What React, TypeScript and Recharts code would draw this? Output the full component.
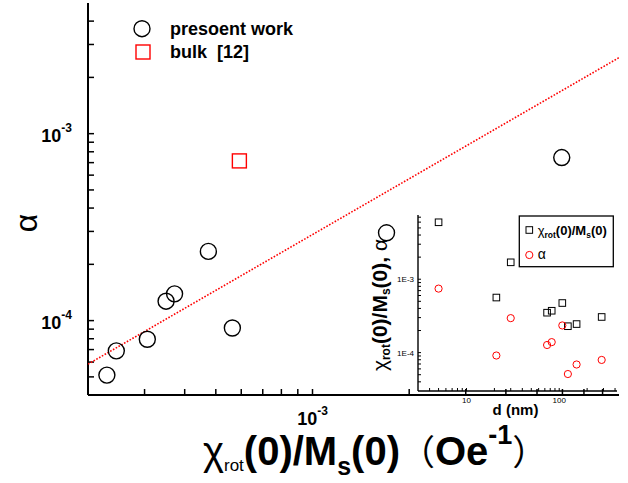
import React from 'react';
import { ScatterChart, Scatter, XAxis, YAxis, Legend, Label } from 'recharts';

const FONT = "'Liberation Sans', Arial, Helvetica, sans-serif";
const CJK = "'Noto Sans CJK SC', 'Noto Sans CJK JP', sans-serif";

// ---- data ----
const sizeNm = [5, 21, 30, 74, 83, 108, 124, 154, 287];
const chiRot = [5.97e-3, 5.63e-4, 1.7e-3, 3.5e-4, 3.72e-4, 4.74e-4, 2.29e-4, 2.45e-4, 3.06e-4];
const alpha = [7.45e-4, 9.13e-5, 2.95e-4, 1.27e-4, 1.39e-4, 2.345e-4, 5.11e-5, 6.89e-5, 7.95e-5];
const bulkChi = [5.92e-4];
const bulkAlpha = [7.15e-4];
const fitChi = [2.0e-4, 9.0e-3];
const fitAlpha = [5.85e-5, 2.55e-3];

// ---- axes ----
const mainXDomain = [2e-4, 9e-3];
const mainYDomain = [4e-5, 5e-3];
const mainXTicks = [3e-4, 4e-4, 5e-4, 6e-4, 7e-4, 8e-4, 9e-4, 1e-3, 2e-3, 3e-3, 4e-3, 5e-3, 6e-3, 7e-3, 8e-3];
const mainYTicks = [5e-5, 6e-5, 7e-5, 8e-5, 9e-5, 1e-4, 2e-4, 3e-4, 4e-4, 5e-4, 6e-4, 7e-4, 8e-4, 9e-4, 1e-3, 2e-3, 3e-3, 4e-3];
const insetXDomain = [3, 420];
const insetYDomain = [3e-5, 7.5e-3];
const insetXTicks = [4, 5, 6, 7, 8, 9, 10, 20, 30, 40, 50, 60, 70, 80, 90, 100, 200, 300, 400];
const insetYTicks = [4e-5, 5e-5, 6e-5, 7e-5, 8e-5, 9e-5, 1e-4, 2e-4, 3e-4, 4e-4, 5e-4, 6e-4, 7e-4, 8e-4, 9e-4, 1e-3, 2e-3, 3e-3, 4e-3, 5e-3, 6e-3, 7e-3];

const mainPoints = chiRot.map((x, i) => ({ x, y: alpha[i] }));
const bulkPoints = bulkChi.map((x, i) => ({ x, y: bulkAlpha[i] }));
const fitPoints = fitChi.map((x, i) => ({ x, y: fitAlpha[i] }));
const insetChiPts = sizeNm.map((x, i) => ({ x, y: chiRot[i] }));
const insetAlphaPts = sizeNm.map((x, i) => ({ x, y: alpha[i] }));

const isMajor = (v: number) => Math.abs(Math.log10(v) - Math.round(Math.log10(v))) < 1e-6;
const expOf = (v: number) => Math.round(Math.log10(v));

// ---- shapes ----
const Empty = () => <g />;
const OpenCircle = (p: any) => <circle cx={p.cx} cy={p.cy} r={8} fill="none" stroke="#000" strokeWidth={1.4} />;
const RedSquare = (p: any) => <rect x={p.cx - 7} y={p.cy - 7} width={14} height={14} fill="none" stroke="#f00" strokeWidth={1.4} />;
const SmallSquare = (p: any) => <rect x={p.cx - 3.3} y={p.cy - 3.3} width={6.6} height={6.6} fill="none" stroke="#000" strokeWidth={1} />;
const SmallCircle = (p: any) => <circle cx={p.cx} cy={p.cy} r={3.6} fill="none" stroke="#f00" strokeWidth={1} />;

// ---- tick labels (tick lines drawn natively, inward via negative tickSize) ----
const MainXTick = (p: any) =>
  isMajor(p.payload.value) ? (
    <text x={p.x} y={p.y + 36} textAnchor="middle" fontFamily={FONT} fontWeight="bold" fontSize={18} fill="#000">
      10<tspan dy={-10} fontSize={12}>{expOf(p.payload.value)}</tspan>
    </text>
  ) : <g />;

const MainYTick = (p: any) =>
  isMajor(p.payload.value) ? (
    <text x={p.x - 22} y={p.y + 8} textAnchor="end" fontFamily={FONT} fontWeight="bold" fontSize={18} fill="#000">
      10<tspan dy={-10} fontSize={12}>{expOf(p.payload.value)}</tspan>
    </text>
  ) : <g />;

const InsetXTick = (p: any) =>
  isMajor(p.payload.value) ? (
    <text x={p.x} y={p.y + 15} textAnchor="middle" fontFamily={FONT} fontSize={8} fill="#000">
      {String(p.payload.value)}
    </text>
  ) : <g />;

const InsetYTick = (p: any) =>
  isMajor(p.payload.value) ? (
    <text x={p.x - 7} y={p.y + 3} textAnchor="end" fontFamily={FONT} fontSize={8} fill="#000">
      {`1E${expOf(p.payload.value)}`}
    </text>
  ) : <g />;

// ---- titles ----
const MainXTitle = (p: any) => {
  const vb = p.viewBox || { x: 88, y: 395, width: 531, height: 88 };
  return (
    <text x={vb.x + 115} y={vb.y + 70} fontFamily={FONT} fontWeight="bold" fontSize={40} fill="#000">
      <tspan fontWeight="normal">χ</tspan>
      <tspan fontWeight="normal" fontSize={17} dy={6}>rot</tspan>
      <tspan dy={-6}>(0)/M</tspan>
      <tspan fontSize={25} dy={10}>s</tspan>
      <tspan dy={-10}>(0)</tspan>
      <tspan fontFamily={CJK} fontWeight="normal" fontSize={35}>（</tspan>
      <tspan>Oe</tspan>
      <tspan fontSize={27} dy={-21}>-1</tspan>
      <tspan dy={21} fontFamily={CJK} fontWeight="normal" fontSize={35}>）</tspan>
    </text>
  );
};

const MainYTitle = (p: any) => {
  const vb = p.viewBox || { x: 0, y: 3, width: 88, height: 392 };
  const cx = vb.x + 26;
  const cy = vb.y + vb.height / 2 + 24;
  return (
    <text x={cx} y={cy} transform={`rotate(-90, ${cx}, ${cy})`} textAnchor="middle" dominantBaseline="central" fontFamily={FONT} fontSize={32} fill="#000">
      α
    </text>
  );
};

const InsetXTitle = (p: any) => {
  const vb = p.viewBox || { x: 58, y: 186, width: 199, height: 39 };
  return (
    <text x={vb.x + vb.width / 2 - 2} y={vb.y + 24} textAnchor="middle" fontFamily={FONT} fontWeight="bold" fontSize={15} fill="#000">
      d (nm)
    </text>
  );
};

const InsetYTitle = (p: any) => {
  const vb = p.viewBox || { x: 0, y: 10, width: 58, height: 176 };
  const cx = vb.x + 27;
  const cy = vb.y + vb.height / 2 + 2;
  return (
    <text x={cx} y={cy} transform={`rotate(-90, ${cx}, ${cy})`} textAnchor="middle" fontFamily={FONT} fontWeight="bold" fontSize={21} fill="#000">
      <tspan fontWeight="normal">χ</tspan>
      <tspan fontSize={12} dy={3}>rot</tspan>
      <tspan dy={-3}>(0)/M</tspan>
      <tspan fontSize={12} dy={3}>s</tspan>
      <tspan dy={-3}>(0), </tspan>
      <tspan fontWeight="normal">α</tspan>
    </text>
  );
};

// ---- legends ----
const MainLegend = () => (
  <svg width={300} height={70} style={{ display: 'block', overflow: 'visible' }}>
    <circle cx={142} cy={28.7} r={8} fill="none" stroke="#000" strokeWidth={1.4} />
    <text x={170} y={34.5} fontFamily={FONT} fontWeight="bold" fontSize={18} fill="#000">presoent work</text>
    <rect x={136} y={45} width={14} height={14} fill="none" stroke="#f00" strokeWidth={1.4} />
    <text x={170} y={58} fontFamily={FONT} fontWeight="bold" fontSize={18} fill="#000" style={{ whiteSpace: 'pre' }}>bulk  [12]</text>
  </svg>
);

const InsetLegend = () => (
  <svg width={265} height={70} style={{ display: 'block', overflow: 'visible' }}>
    <rect x={159.3} y={11} width={94} height={50.7} fill="none" stroke="#000" strokeWidth={1.3} />
    <rect x={166} y={21.7} width={6.6} height={6.6} fill="none" stroke="#000" strokeWidth={1} />
    <text x={177.7} y={30} fontFamily={FONT} fontWeight="bold" fontSize={13} fill="#000">
      <tspan fontWeight="normal">χ</tspan>
      <tspan fontSize={8.5} dy={3}>rot</tspan>
      <tspan dy={-3}>(0)/M</tspan>
      <tspan fontSize={8.5} dy={3}>s</tspan>
      <tspan dy={-3}>(0)</tspan>
    </text>
    <circle cx={169.3} cy={50} r={3.6} fill="none" stroke="#f00" strokeWidth={1} />
    <text x={177.7} y={54} fontFamily={FONT} fontSize={14} fill="#000">α</text>
  </svg>
);

const axisLine = { stroke: '#000', strokeWidth: 2 };
const insetAxisLine = { stroke: '#000', strokeWidth: 1.4 };
const mainTickLine = { stroke: '#000', strokeWidth: 1.5 };
const insetTickLine = { stroke: '#000', strokeWidth: 1 };

export default function App() {
  return (
    <div style={{ position: 'absolute', left: 0, top: 0, width: 628, height: 483, background: '#fff' }}>
      <div style={{ position: 'absolute', left: 0, top: 0 }}>
        <ScatterChart width={628} height={483} margin={{ top: 3, right: 9, bottom: 0, left: 0 }}>
          <XAxis xAxisId="b" dataKey="x" type="number" scale="log" domain={mainXDomain} allowDataOverflow
            ticks={mainXTicks} interval={0} tickSize={-6} tickMargin={0} tick={MainXTick} tickLine={mainTickLine}
            axisLine={axisLine} height={88}>
            <Label content={MainXTitle} />
          </XAxis>
          <XAxis xAxisId="t" orientation="top" dataKey="x" type="number" scale="log" domain={mainXDomain} allowDataOverflow
            tick={false} tickLine={false} axisLine={axisLine} height={0} />
          <YAxis yAxisId="l" dataKey="y" type="number" scale="log" domain={mainYDomain} allowDataOverflow
            ticks={mainYTicks} interval={0} tickSize={-6} tickMargin={0} tick={MainYTick} tickLine={mainTickLine}
            axisLine={axisLine} width={88}>
            <Label content={MainYTitle} />
          </YAxis>
          <YAxis yAxisId="r" orientation="right" dataKey="y" type="number" scale="log" domain={mainYDomain} allowDataOverflow
            tick={false} tickLine={false} axisLine={axisLine} width={0} />
          <Scatter xAxisId="b" yAxisId="l" data={fitPoints} shape={Empty} isAnimationActive={false}
            line={{ stroke: '#ff0000', strokeWidth: 1.6, strokeDasharray: '1.6 1.6' }} />
          <Scatter xAxisId="b" yAxisId="l" data={mainPoints} shape={OpenCircle} isAnimationActive={false} />
          <Scatter xAxisId="b" yAxisId="l" data={bulkPoints} shape={RedSquare} isAnimationActive={false} />
          <Legend content={() => <MainLegend />} layout="horizontal" verticalAlign="middle" align="center"
            wrapperStyle={{ left: 0, top: 0, width: 300, height: 70, pointerEvents: 'none' }} />
        </ScatterChart>
      </div>
      <div style={{ position: 'absolute', left: 360, top: 205 }}>
        <ScatterChart width={265} height={225} margin={{ top: 10, right: 8, bottom: 0, left: 0 }}>
          <XAxis xAxisId="b" dataKey="x" type="number" scale="log" domain={insetXDomain} allowDataOverflow
            ticks={insetXTicks} interval={0} tickSize={-3} tickMargin={0} tick={InsetXTick} tickLine={insetTickLine}
            axisLine={insetAxisLine} height={39}>
            <Label content={InsetXTitle} />
          </XAxis>
          <XAxis xAxisId="t" orientation="top" dataKey="x" type="number" scale="log" domain={insetXDomain} allowDataOverflow
            tick={false} tickLine={false} axisLine={insetAxisLine} height={0} />
          <YAxis yAxisId="l" dataKey="y" type="number" scale="log" domain={insetYDomain} allowDataOverflow
            ticks={insetYTicks} interval={0} tickSize={-3} tickMargin={0} tick={InsetYTick} tickLine={insetTickLine}
            axisLine={insetAxisLine} width={58}>
            <Label content={InsetYTitle} />
          </YAxis>
          <YAxis yAxisId="r" orientation="right" dataKey="y" type="number" scale="log" domain={insetYDomain} allowDataOverflow
            tick={false} tickLine={false} axisLine={{ stroke: '#000', strokeWidth: 2 }} width={0} />
          <Scatter xAxisId="b" yAxisId="l" data={insetChiPts} shape={SmallSquare} isAnimationActive={false} />
          <Scatter xAxisId="b" yAxisId="l" data={insetAlphaPts} shape={SmallCircle} isAnimationActive={false} />
          <Legend content={() => <InsetLegend />} layout="horizontal" verticalAlign="middle" align="center"
            wrapperStyle={{ left: 0, top: 0, width: 265, height: 70, pointerEvents: 'none' }} />
        </ScatterChart>
      </div>
    </div>
  );
}
